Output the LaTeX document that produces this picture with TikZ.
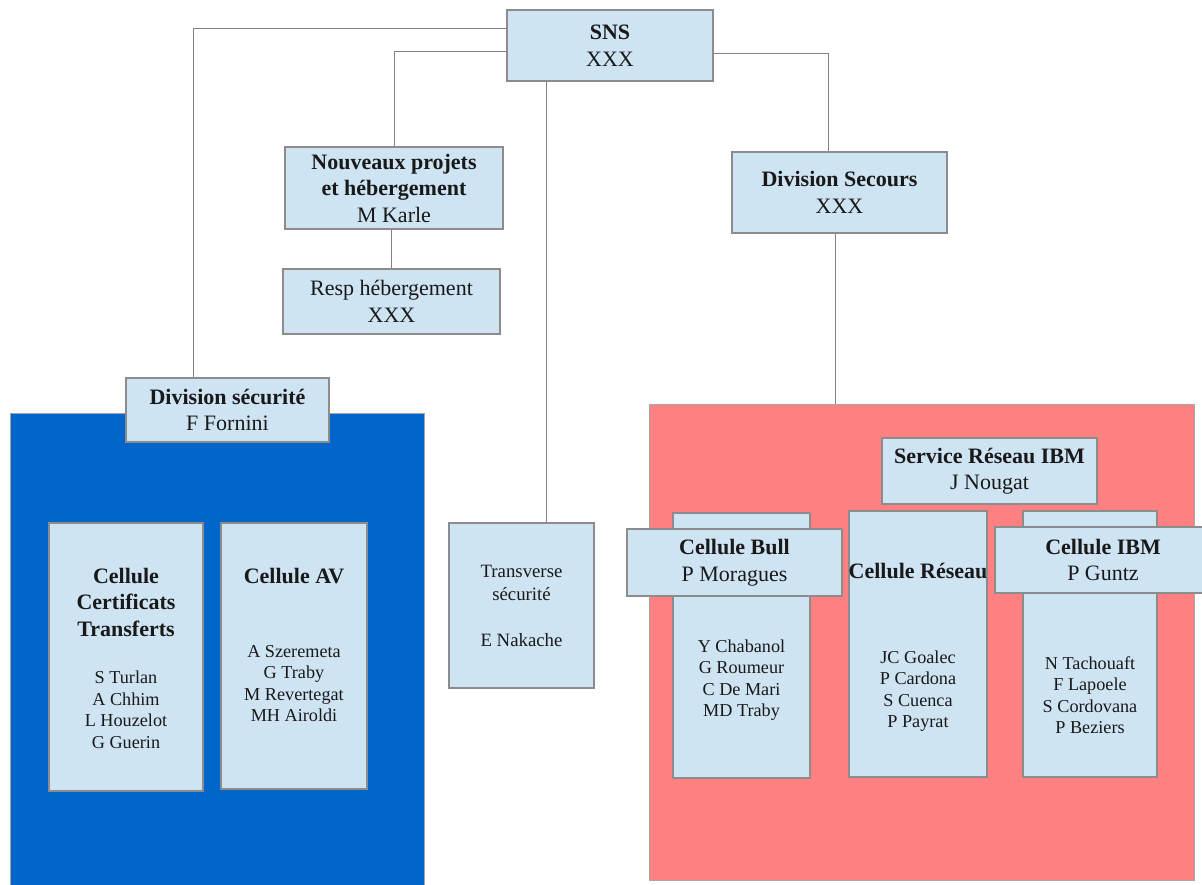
\documentclass[tikz,border=0pt]{standalone}
\usepackage{fontspec}
\setmainfont{Liberation Serif}
\usetikzlibrary{calc}
\definecolor{boxfill}{RGB}{207,228,243}
\definecolor{boxline}{RGB}{140,140,140}
\definecolor{regblue}{RGB}{0,102,204}
\definecolor{regred}{RGB}{255,128,128}
\definecolor{connline}{RGB}{130,130,130}
\newcommand{\hdfont}{\fontsize{22}{26.5}\selectfont}
\newcommand{\nmfont}{\fontsize{18.2}{21.5}\selectfont}
\newcommand{\trfont}{\fontsize{18.8}{23}\selectfont}
\begin{document}
\begin{tikzpicture}[x=1pt,y=-1pt,
  box/.style={draw=boxline, fill=boxfill, line width=1.2pt, inner sep=0pt, align=center, font=\hdfont, text=black!90},
  region/.style={draw=black!35, line width=1pt, inner sep=0pt},
  lbl/.style={inner sep=0pt, align=center, text=black!90},
  conn/.style={draw=connline, line width=0.9pt}]
\useasboundingbox[fill=white] (0,0) rectangle (1202,885);

% regions
\node[region, fill=regblue, minimum width=414pt, minimum height=476pt] (blue) at (217,651) {};
\node[region, fill=regred, minimum width=545pt, minimum height=476pt] (red) at (921.5,642) {};

% top level
\node[box, minimum width=206pt, minimum height=71pt] (sns) at (610,45.5) {\textbf{SNS}\\XXX};
\node[box, minimum width=218pt, minimum height=82pt] (nouv) at (394,188) {\textbf{Nouveaux projets}\\\textbf{et hébergement}\\M Karle};
\node[box, minimum width=217pt, minimum height=65pt] (resp) at (391.5,301.5) {Resp hébergement\\XXX};
\node[box, minimum width=215pt, minimum height=81pt] (dsec) at (839.5,192.5) {\textbf{Division Secours}\\XXX};
\node[box, minimum width=203pt, minimum height=64pt] (divsec) at (227.5,410) {\textbf{Division sécurité}\\F Fornini};
\node[box, font=\trfont, minimum width=145pt, minimum height=165pt] (trans) at (521.5,605.5) {Transverse\\sécurité\\[23pt]E Nakache};

% blue region cells
\node[box, minimum width=154pt, minimum height=268pt] (cert) at (126,657) {};
\node[lbl, font=\hdfont\bfseries] (certh) at (126,602) {Cellule\\Certificats\\Transferts};
\node[lbl, font=\nmfont] (certn) at (126,710) {S Turlan\\A Chhim\\L Houzelot\\G Guerin};
\node[box, minimum width=146pt, minimum height=266pt] (av) at (294,656) {};
\node[lbl, font=\hdfont\bfseries] (avh) at (294,576) {Cellule AV};
\node[lbl, font=\nmfont] (avn) at (294,683.5) {A Szeremeta\\G Traby\\M Revertegat\\MH Airoldi};

% red region cells
\node[box, minimum width=215pt, minimum height=66pt] (serv) at (989.5,471) {\textbf{Service Réseau IBM}\\J Nougat};
\node[box, minimum width=137pt, minimum height=265pt] (bull) at (741.5,645.5) {};
\node[box, minimum width=215pt, minimum height=67pt] (bullh) at (734.5,562.5) {\textbf{Cellule Bull}\\P Moragues};
\node[lbl, font=\nmfont] (bulln) at (741.5,680) {Y Chabanol\\G Roumeur\\C De Mari\\MD Traby};
\node[box, minimum width=138pt, minimum height=266pt] (res) at (918,644) {};
\node[lbl, font=\hdfont\bfseries] (resh) at (918,571) {Cellule Réseau};
\node[lbl, font=\nmfont] (resn) at (918,691) {JC Goalec\\P Cardona\\S Cuenca\\P Payrat};
\node[box, minimum width=134pt, minimum height=266pt] (ibm) at (1090,644) {};
\node[box, minimum width=216pt, minimum height=66pt] (ibmh) at (1103,560) {\textbf{Cellule IBM}\\P Guntz};
\node[lbl, font=\nmfont] (ibmn) at (1090,695) {N Tachouaft\\F Lapoele\\S Cordovana\\P Beziers};

% connectors
\coordinate (c1) at (193,28);
\coordinate (c2) at (394,51);
\coordinate (c3) at (546,0);
\coordinate (c4) at (828,53);
\coordinate (c5) at (835,0);
\draw[conn] (sns.west |- c1) -- (c1) -- (c1 |- divsec.north);
\draw[conn] (sns.west |- c2) -- (c2) -- (c2 |- nouv.north);
\draw[conn] (c3 |- sns.south) -- (c3 |- trans.north);
\draw[conn] (sns.east |- c4) -- (c4) -- (c4 |- dsec.north);
\draw[conn] (c5 |- dsec.south) -- (c5 |- red.north);
\draw[conn] (resp.north) -- (resp.north |- nouv.south);
\end{tikzpicture}
\end{document}
